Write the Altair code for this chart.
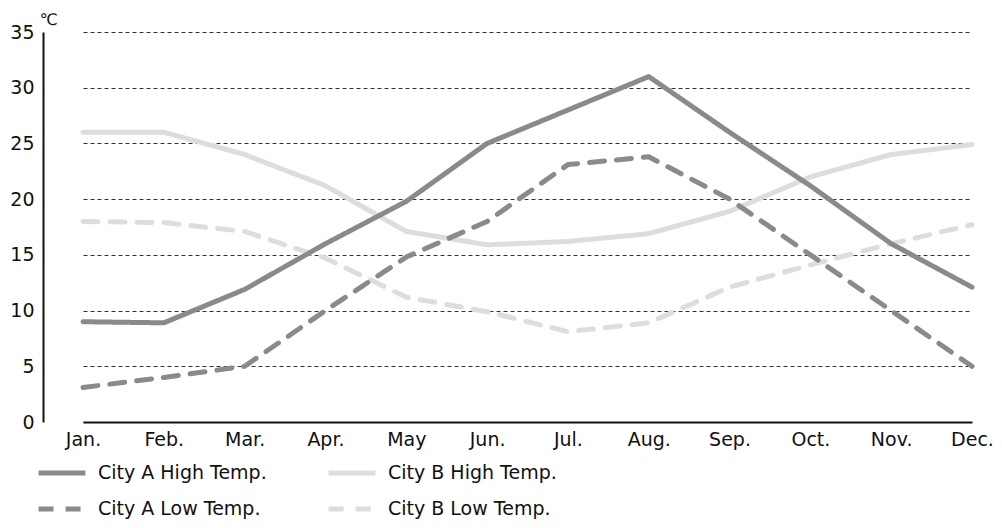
import altair as alt
import pandas as pd

months = ["Jan.", "Feb.", "Mar.", "Apr.", "May", "Jun.", "Jul.", "Aug.", "Sep.", "Oct.", "Nov.", "Dec."]
series_names = ["City A High Temp.", "City B High Temp.", "City A Low Temp.", "City B Low Temp."]
city_a_high = [9.0, 8.9, 11.9, 16.0, 19.8, 25.0, 28.0, 31.0, 26.0, 21.2, 16.0, 12.1]
city_a_low = [3.1, 4.0, 5.0, 10.0, 14.8, 18.0, 23.1, 23.8, 20.0, 15.0, 10.0, 5.0]
city_b_high = [26.0, 26.0, 24.0, 21.2, 17.1, 15.9, 16.2, 16.9, 18.9, 22.0, 24.0, 24.9]
city_b_low = [18.0, 17.9, 17.1, 14.7, 11.2, 9.9, 8.1, 8.9, 12.1, 14.1, 16.0, 17.7]
y_ticks = [0, 5, 10, 15, 20, 25, 30, 35]

FONT = "DejaVu Sans"
COLOR_A = "#8a8a8a"
COLOR_B = "#dcdddc"

rows = []
# light series first so the darker lines are drawn on top
for name, vals in [(series_names[1], city_b_high), (series_names[3], city_b_low),
                   (series_names[0], city_a_high), (series_names[2], city_a_low)]:
    for m, v in zip(months, vals):
        rows.append({"month": m, "series": name, "value": v})
df = pd.DataFrame(rows)

chart = alt.Chart(df).mark_line(strokeWidth=5, strokeCap="round", strokeJoin="round").encode(
    x=alt.X("month:O", sort=months,
            scale=alt.Scale(type="point", range=[40, 929], padding=0),
            axis=alt.Axis(title=None, labelAngle=0, ticks=False, grid=False,
                          domainColor="#111", domainWidth=2, labelPadding=8,
                          labelFontSize=19, labelFont=FONT, labelColor="#111")),
    y=alt.Y("value:Q", scale=alt.Scale(domain=[0, 35], nice=False),
            axis=alt.Axis(values=y_ticks, title="℃", titleAngle=0, titleAlign="left",
                          titleBaseline="alphabetic", titleX=-4, titleY=-8,
                          titleFont=FONT, titleFontSize=16, titleFontWeight="normal",
                          titleColor="#111",
                          ticks=False, grid=True, gridDash=[4, 3], gridColor="#333",
                          gridWidth=1, domainColor="#111", domainWidth=2, labelPadding=9,
                          labelFontSize=19, labelFont=FONT, labelColor="#111")),
    color=alt.Color("series:N", scale=alt.Scale(domain=series_names,
                                                range=[COLOR_A, COLOR_B, COLOR_A, COLOR_B]),
                    legend=alt.Legend(title=None, values=series_names)),
    strokeDash=alt.StrokeDash("series:N", scale=alt.Scale(domain=series_names,
                                                          range=[[1, 0], [1, 0], [15, 12], [15, 12]]),
                              legend=alt.Legend(title=None, values=series_names)),
).properties(
    width=951, height=390,
    autosize=alt.AutoSizeParams(type="none"),
    padding={"left": 35, "top": 24, "right": 0, "bottom": 98},
).configure_view(stroke=None).configure_legend(
    orient="none", direction="horizontal", legendX=-7, legendY=415, columns=2,
    symbolType="stroke", symbolSize=2200, symbolStrokeWidth=5, labelFontSize=19,
    labelFont=FONT, labelLimit=400, labelColor="#111", rowPadding=0, columnPadding=51,
    padding=0, labelOffset=10,
)

chart.save("out.html", embed_options={"renderer": "svg", "actions": False})
